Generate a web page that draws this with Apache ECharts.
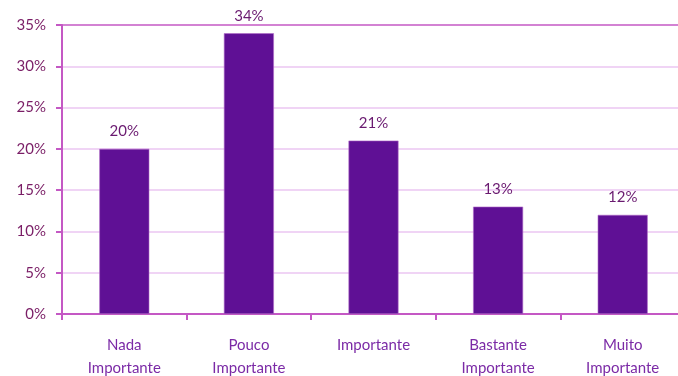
<!DOCTYPE html>
<html>
<head>
<meta charset="utf-8">
<script src="https://cdn.jsdelivr.net/npm/echarts@6/dist/echarts.min.js"></script>
<style>
  html, body { margin: 0; padding: 0; background: #ffffff; }
  #chart { width: 678px; height: 376px; }
</style>
</head>
<body>
<div id="chart"></div>
<script>
// Importance ratings, share of responses (%)
const categories = ['Nada\nImportante', 'Pouco\nImportante', 'Importante', 'Bastante\nImportante', 'Muito\nImportante'];
const shares = [20, 34, 21, 13, 12];
const yTicks = [0, 5, 10, 15, 20, 25, 30, 35];

const FONT = 'Lato, "Open Sans", sans-serif';
const chart = echarts.init(document.getElementById('chart'), null, { renderer: 'canvas' });

// top gridline drawn in the darker axis colour, the rest light
const gridColors = yTicks.map((t, i) => i === yTicks.length - 1 ? '#C458C4' : '#EBC6F2');

chart.setOption({
  animation: false,
  grid: { left: 62, width: 623, top: 25, height: 289, outerBoundsMode: 'none', containLabel: false },
  xAxis: {
    type: 'category',
    data: categories,
    axisLine: { lineStyle: { color: '#C458C4', width: 2 } },
    axisTick: { show: true, length: 6, lineStyle: { color: '#C458C4', width: 2 } },
    axisLabel: {
      color: '#7B2AA6', fontFamily: FONT, fontSize: 15,
      lineHeight: 23, margin: 20, interval: 0
    }
  },
  yAxis: {
    type: 'value',
    min: yTicks[0],
    max: yTicks[yTicks.length - 1],
    interval: 5,
    axisLine: { show: true, lineStyle: { color: '#C458C4', width: 2 } },
    axisTick: { show: true, length: 6, lineStyle: { color: '#C458C4', width: 2 } },
    splitLine: { show: true, lineStyle: { color: gridColors, width: 1.5 } },
    axisLabel: {
      color: '#7A1E66', fontFamily: FONT, fontSize: 15, margin: 16,
      formatter: v => v + '%'
    }
  },
  series: [{
    type: 'bar',
    data: shares,
    barWidth: 50,
    itemStyle: { color: '#5F1095', borderColor: '#B06AC8', borderWidth: 0.6 },
    label: {
      show: true, position: 'top', distance: 10,
      color: '#6A1A70', fontFamily: FONT, fontSize: 15,
      formatter: p => p.value + '%'
    }
  }]
});
</script>
</body>
</html>
